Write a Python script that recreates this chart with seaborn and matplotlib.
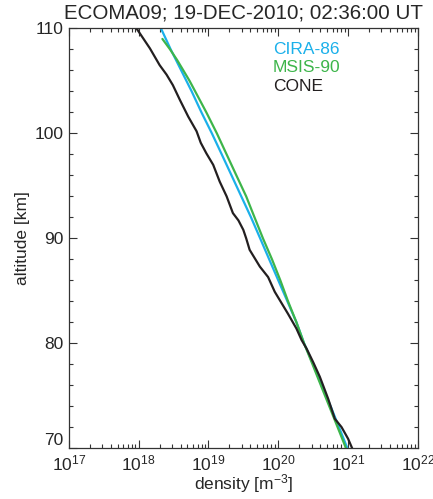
import numpy as np
import pandas as pd
import seaborn as sns
import matplotlib.pyplot as plt
from matplotlib.ticker import LogLocator, MultipleLocator, NullFormatter

# CIRA-86 model profile
cira_alt = [110, 108, 106, 104, 102, 100, 98, 96, 94, 92, 90, 88, 86, 84, 82, 80, 78, 76, 74, 72, 70]
cira_dens = [2.09e18, 2.88e18, 4.07e18, 5.75e18, 7.94e18, 1.12e19, 1.55e19, 2.14e19, 2.95e19, 4.07e19,
             5.50e19, 7.41e19, 1.00e20, 1.35e20, 1.82e20, 2.34e20, 3.16e20, 4.17e20, 5.62e20, 7.41e20, 9.77e20]

# MSIS-90 model profile
msis_alt = [109, 108, 107, 106, 105, 104, 102, 100, 98, 96, 94, 92, 90, 88, 86, 84, 82, 80, 78, 76, 74, 72, 70]
msis_dens = [2.19e18, 2.82e18, 3.55e18, 4.37e18, 5.37e18, 6.46e18, 9.33e18, 1.32e19, 1.82e19, 2.51e19,
             3.47e19, 4.57e19, 6.03e19, 8.13e19, 1.07e20, 1.38e20, 1.82e20, 2.34e20, 3.09e20, 4.07e20,
             5.37e20, 7.08e20, 9.33e20]

# CONE measurement
cone_alt = [110.0, 108.1, 106.5, 105.6, 104.6, 103.2, 101.6, 100.2, 99.1, 98.1, 97.0, 95.4, 94.0,
            92.4, 91.7, 90.8, 90.0, 88.9, 87.3, 86.3, 84.9, 82.8, 81.4, 80.3, 79.5, 78.2,
            76.8, 74.7, 72.8, 72.0, 70.9, 69.9]
cone_dens = [9.33e17, 1.45e18, 2.00e18, 2.51e18, 3.09e18, 3.89e18, 5.13e18, 6.76e18, 7.76e18, 9.33e18,
             1.17e19, 1.45e19, 1.82e19, 2.24e19, 2.69e19, 3.16e19, 3.47e19, 3.89e19, 5.45e19, 7.16e19,
             8.91e19, 1.38e20, 1.82e20, 2.16e20, 2.54e20, 3.16e20, 3.94e20, 5.19e20, 6.46e20, 8.07e20,
             1.00e21, 1.16e21]

labels = ["CIRA-86", "MSIS-90", "CONE"]
colors = ["#1bb0ea", "#3db54a", "#231f20"]
yticks = [70, 80, 90, 100, 110]

sns.set_style("ticks")
plt.rcParams['font.family'] = ['Liberation Sans', 'DejaVu Sans']
plt.rcParams['mathtext.default'] = 'regular'

df = pd.concat([
    pd.DataFrame({"alt": cira_alt, "dens": cira_dens, "model": labels[0]}),
    pd.DataFrame({"alt": msis_alt, "dens": msis_dens, "model": labels[1]}),
    pd.DataFrame({"alt": cone_alt, "dens": cone_dens, "model": labels[2]}),
])

fig = plt.figure(figsize=(4.33, 4.99), dpi=100)
fig.subplots_adjust(left=0.159, right=0.965, bottom=0.102, top=0.943)
ax = fig.gca()

sns.lineplot(data=df, x="dens", y="alt", hue="model", palette=colors, hue_order=labels,
             sort=False, estimator=None, linewidth=1.6, legend=False, ax=ax)

ax.set_xscale("log")
ax.set_xlim(1e17, 1e22)
ax.set_ylim(70, 110)
ax.xaxis.set_major_locator(LogLocator(base=10, numticks=10))
ax.xaxis.set_minor_locator(LogLocator(base=10, subs=np.arange(2, 10), numticks=20))
ax.xaxis.set_minor_formatter(NullFormatter())
ax.set_yticks(yticks)
ax.yaxis.set_minor_locator(MultipleLocator(2))

ax.tick_params(which="both", direction="in", top=True, right=True, labelsize=12.5,
               color="#333333", width=0.8)
ax.tick_params(which="major", length=6, pad=4)
ax.tick_params(which="minor", length=3)
for s in ax.spines.values():
    s.set_linewidth(0.9)
    s.set_color("#333333")

# bottom altitude label sits just above the axis corner
ax.get_yticklabels()[0].set_verticalalignment("bottom")

ax.set_xlabel("density [m$^{-3}$]", fontsize=12.5)
ax.set_ylabel("altitude [km]", fontsize=12.5)
ax.xaxis.set_label_coords(0.5, -0.058)
ax.yaxis.set_label_coords(-0.112, 0.5)
ax.set_title("ECOMA09; 19-DEC-2010; 02:36:00 UT", fontsize=14.8, pad=7)

for i, (lab, col) in enumerate(zip(labels, colors)):
    ax.text(0.585, 0.951 - 0.045 * i, lab, color=col, fontsize=12.5,
            transform=ax.transAxes, ha="left", va="center")

fig.savefig("out.png", dpi=100)
